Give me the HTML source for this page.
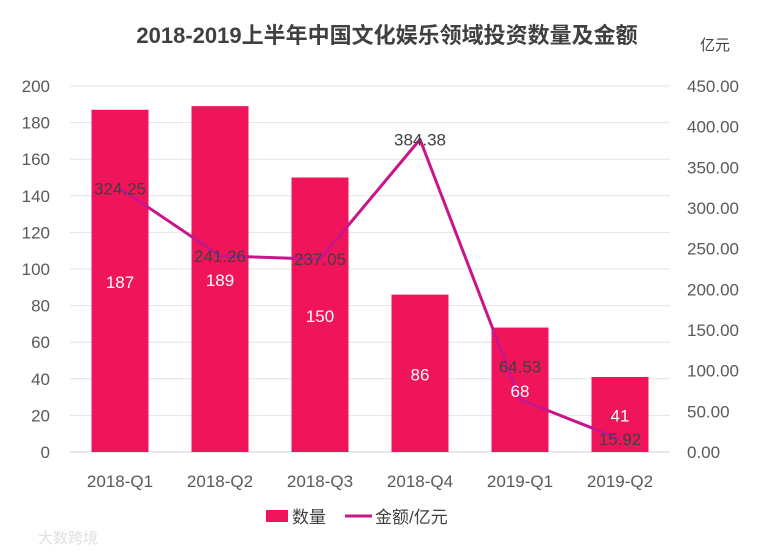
<!DOCTYPE html>
<html><head><meta charset="utf-8"><style>
body{margin:0;background:#fff;}
svg{display:block;font-family:"Liberation Sans","Noto Sans CJK SC",sans-serif;}
</style></head><body>
<svg width="760" height="553" id="chart">
<text x="387" y="43" text-anchor="middle" font-size="22" font-weight="bold" fill="#404040">2018-2019上半年中国文化娱乐领域投资数量及金额</text>
<text x="715" y="50" text-anchor="middle" font-size="15" fill="#404040">亿元</text>
<g id="grid"></g><g id="bars"></g><g id="line"></g><g id="labels"></g>
<g>
<rect x="266" y="510" width="22" height="12" fill="#F0145A"/>
<text x="292" y="523" font-size="17" fill="#404040">数量</text>
<line x1="345" y1="516" x2="372" y2="516" stroke="#C8168A" stroke-width="3"/>
<text x="375" y="523" font-size="17" fill="#404040">金额/亿元</text>
</g>
<text x="38" y="543" font-size="15" fill="#e0e0e0">大数跨境</text>
</svg>
<script>
const categories=["2018-Q1","2018-Q2","2018-Q3","2018-Q4","2019-Q1","2019-Q2"];
const counts=[187,189,150,86,68,41];
const amounts=[324.25,241.26,237.05,384.38,64.53,15.92];
const leftTicks=[0,20,40,60,80,100,120,140,160,180,200];
const rightTicks=["0.00","50.00","100.00","150.00","200.00","250.00","300.00","350.00","400.00","450.00"];
const NS="http://www.w3.org/2000/svg";
const x0=70,x1=670,y0=452,y1=86;
const yL=v=>y0-(v/200)*(y0-y1);
const yR=v=>y0-(v/450)*(y0-y1);
const xc=i=>x0+(i+0.5)*(x1-x0)/categories.length;
function mk(tag,attrs,parent,txt){const e=document.createElementNS(NS,tag);for(const k in attrs)e.setAttribute(k,attrs[k]);if(txt!==undefined)e.textContent=txt;document.getElementById(parent).appendChild(e);return e;}
leftTicks.forEach(t=>{
 const g=mk('line',{x1:x0,x2:x1,y1:yL(t),y2:yL(t),stroke:t===0?'#d0d0d0':'#e4e4e4','stroke-width':1},'grid');
 
 
 const l=mk('text',{x:50,y:yL(t)+6,'text-anchor':'end','font-size':17,fill:'#595959'},'grid',t);
 
 
});
rightTicks.forEach(t=>{
 const l=mk('text',{x:687,y:yR(parseFloat(t))+6,'font-size':17,fill:'#595959'},'grid',t);
 
 
});
categories.forEach((c,i)=>{
 const l=mk('text',{x:xc(i),y:487,'text-anchor':'middle','font-size':17,fill:'#595959'},'grid',c);
 
 
 const b=mk('rect',{x:xc(i)-28.5,y:yL(counts[i]),width:57,height:y0-yL(counts[i]),fill:'#F0145A'},'bars');
 
 
 const bl=mk('text',{x:xc(i),y:(yL(counts[i])+y0)/2+7,'text-anchor':'middle','font-size':17,fill:'#fff'},'labels',counts[i]);
 
 
});
const pts=amounts.map((v,i)=>xc(i)+','+yR(v)).join(' ');
const pl=mk('polyline',{points:pts,fill:'none',stroke:'#C8168A','stroke-width':3,'stroke-linejoin':'round'},'line');


const off=[0,0,0,0,-33,0];
amounts.forEach((v,i)=>{
 const t=mk('text',{x:xc(i),y:yR(v)+6+off[i],'text-anchor':'middle','font-size':17,fill:'#404040'},'labels',v.toFixed(2));
 
 
});
</script>
</body></html>
